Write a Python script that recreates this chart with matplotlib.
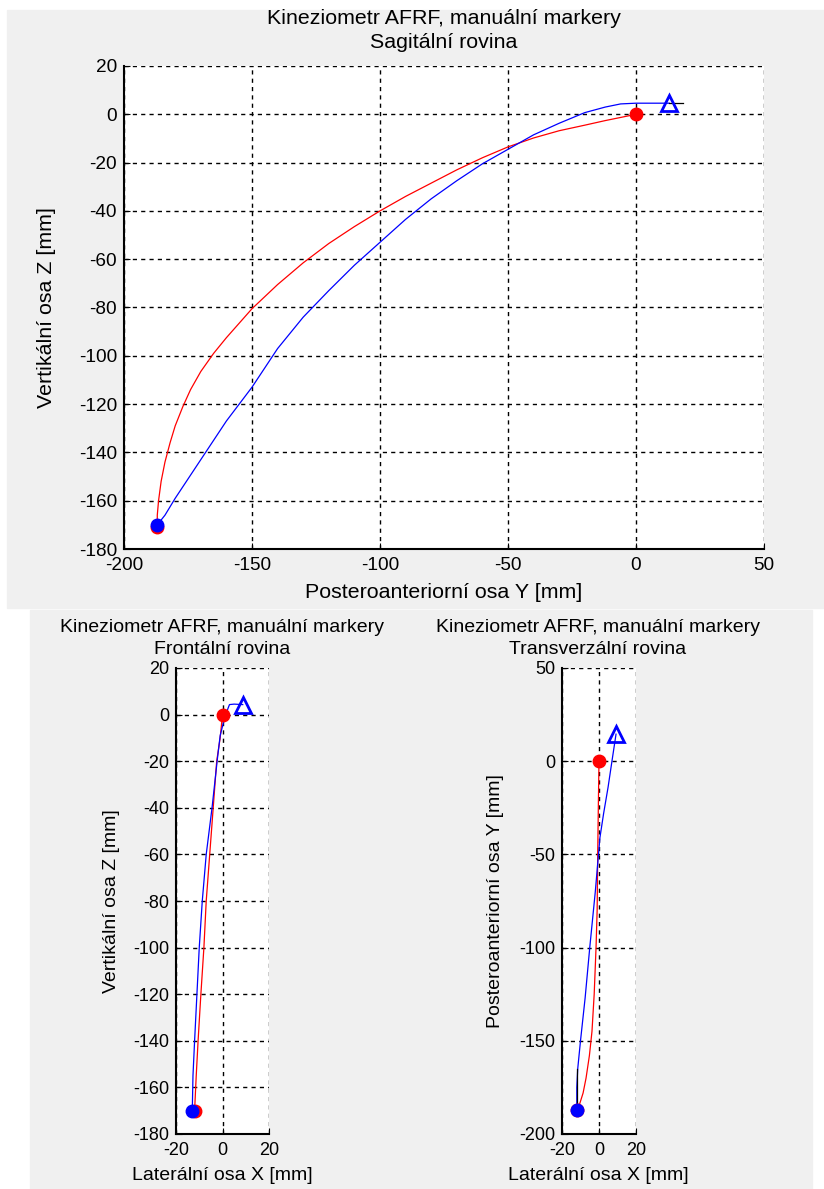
import numpy as np
import matplotlib
matplotlib.use("Agg")
import matplotlib.pyplot as plt
from matplotlib.patches import Rectangle

plt.rcParams['font.family'] = ['Liberation Sans', 'DejaVu Sans']
plt.rcParams['axes.unicode_minus'] = False

# sagittal plane: posteroanterior Y vs vertical Z
sag_red_y = [0, -6, -12, -20, -30, -40, -50, -60, -70, -80, -90, -100, -110, -120,
             -130, -140, -150, -155, -160, -165, -170, -174, -177, -180, -182,
             -184, -185.5, -186.5, -187, -187]
sag_red_z = [0, -1.3, -2.6, -4.5, -6.8, -9.8, -13.5, -18, -23, -28.5, -34, -40, -46.5, -53.5,
             -61.5, -70.5, -80.5, -86.5, -92.5, -99, -106.5, -114, -121, -129, -136,
             -144, -152, -160, -166, -171]
sag_blue_y = [13, 6, 0, -6, -12, -20, -30, -40, -50, -60, -70, -80, -90, -100,
              -110, -120, -130, -140, -145, -150, -155, -160, -165, -170, -175,
              -180, -184, -187]
sag_blue_z = [4.6, 4.6, 4.6, 4.3, 3.0, 0.7, -3.7, -8.5, -14.5, -20.5, -27.5, -35, -43.5, -53,
              -62.5, -73, -84, -97, -105, -113, -120, -127, -135, -143, -151,
              -159, -166, -170]
sag_black_y = [13, 18.4]
sag_black_z = [4.6, 4.6]

# frontal plane: lateral X vs vertical Z
fro_red_x = [0, -1, -2.5, -4, -5.5, -7, -8, -9.3, -10.5, -11.3, -12]
fro_red_z = [0, -10, -20, -40, -60, -80, -100, -120, -140, -155, -170]
fro_blue_x = [8.7, 5, 3, 1.7, 0.5, -1, -2.2, -4.5, -7, -8.7, -10, -11, -12, -12.7, -13]
fro_blue_z = [4.3, 4.5, 4.3, 0.9, -3, -9, -19, -40, -60, -80, -100, -120, -140, -155, -170]

# transverse plane: lateral X vs posteroanterior Y
tra_red_x = [0, -0.3, -0.7, -1.0, -1.6, -2.6, -3.8, -5.2, -7, -8.6, -10.5, -12]
tra_red_y = [0, -20, -50, -80, -100, -125, -145, -158, -170, -178, -184, -187]
tra_blue_x = [9.2, 7, 4.9, 2.5, 0.5, -2, -5, -7.5, -10, -11.5, -12, -12]
tra_blue_y = [14.5, 0, -14, -28, -41, -70, -100, -127, -150, -165, -175, -187]
tra_black_x = [-12, -12]
tra_black_y = [-165, -187]

W, H = 824, 1189
fig = plt.figure(figsize=(W / 100, H / 100), dpi=100)
fig.patch.set_facecolor("white")
gray = "#f0f0f0"
fig.patches.append(Rectangle((7 / W, 1 - 608 / H), 817 / W, 598 / H,
                             transform=fig.transFigure, color=gray, zorder=-10))
fig.patches.append(Rectangle((30 / W, 0), 782 / W, 1 - 610 / H,
                             transform=fig.transFigure, color=gray, zorder=-10))


def make_ax(left, right, top, bottom):
    return fig.add_axes([left / W, 1 - bottom / H, (right - left) / W, (bottom - top) / H])


def style_ax(ax, fs):
    ax.set_facecolor("white")
    ax.spines['top'].set_visible(False)
    ax.spines['right'].set_visible(False)
    ax.spines['left'].set_linewidth(1.5)
    ax.spines['bottom'].set_linewidth(1.5)
    ax.grid(True, color="black", linestyle=(0, (3, 3)), linewidth=1.0)
    ax.tick_params(direction="in", length=4, labelsize=fs, colors="black")
    ax.tick_params(axis="x", pad=6)
    ax.tick_params(axis="y", pad=5)


def draw(ax, rx, ry, bx, by, kx=None, ky=None):
    ax.plot(rx, ry, color="red", lw=0.9)
    ax.plot(bx, by, color="blue", lw=0.9)
    if kx is not None:
        ax.plot(kx, ky, color="black", lw=0.9)
    ax.plot(rx[0], ry[0], "o", color="red", ms=9)
    ax.plot(rx[-1], ry[-1], "o", color="red", ms=9)
    ax.plot(bx[-1], by[-1], "o", color="blue", ms=9)
    ax.plot(bx[0], by[0], "^", mfc="none", mec="blue", mew=2, ms=12)


title1 = "Kineziometr AFRF, manuální markery"
fs_top = 15.4
fs_bot = 14

# top: sagittal
ax1 = make_ax(124, 764, 66, 549)
style_ax(ax1, 13.7)
draw(ax1, sag_red_y, sag_red_z, sag_blue_y, sag_blue_z, sag_black_y, sag_black_z)
ax1.set_xlim(-200, 50)
ax1.set_ylim(-180, 20)
ax1.set_xticks([-200, -150, -100, -50, 0, 50])
ax1.set_yticks(np.arange(-180, 21, 20))
fig.text(444 / W, 1 - 18 / H, title1, ha="center", va="center", fontsize=fs_top)
fig.text(444 / W, 1 - 43 / H, "Sagitální rovina", ha="center", va="center", fontsize=fs_top)
fig.text(444 / W, 1 - 593 / H, "Posteroanteriorní osa Y [mm]", ha="center", va="center", fontsize=fs_top)
fig.text(47 / W, 1 - 308 / H, "Vertikální osa Z [mm]", ha="center", va="center",
         rotation=90, fontsize=fs_top)

# bottom left: frontal
ax2 = make_ax(176, 269, 668, 1134)
style_ax(ax2, 13)
draw(ax2, fro_red_x, fro_red_z, fro_blue_x, fro_blue_z)
ax2.set_xlim(-20, 20)
ax2.set_ylim(-180, 20)
ax2.set_xticks([-20, 0, 20])
ax2.set_yticks(np.arange(-180, 21, 20))
fig.text(222 / W, 1 - 627 / H, title1, ha="center", va="center", fontsize=fs_bot)
fig.text(222 / W, 1 - 649 / H, "Frontální rovina", ha="center", va="center", fontsize=fs_bot)
fig.text(222 / W, 1 - 1175 / H, "Laterální osa X [mm]", ha="center", va="center", fontsize=fs_bot)
fig.text(111 / W, 1 - 901 / H, "Vertikální osa Z [mm]", ha="center", va="center",
         rotation=90, fontsize=fs_bot)

# bottom right: transverse
ax3 = make_ax(562, 636, 668, 1134)
style_ax(ax3, 13)
draw(ax3, tra_red_x, tra_red_y, tra_blue_x, tra_blue_y, tra_black_x, tra_black_y)
ax3.set_xlim(-20, 20)
ax3.set_ylim(-200, 50)
ax3.set_xticks([-20, 0, 20])
ax3.set_yticks([-200, -150, -100, -50, 0, 50])
fig.text(598 / W, 1 - 627 / H, title1, ha="center", va="center", fontsize=fs_bot)
fig.text(598 / W, 1 - 649 / H, "Transverzální rovina", ha="center", va="center", fontsize=fs_bot)
fig.text(598 / W, 1 - 1175 / H, "Laterální osa X [mm]", ha="center", va="center", fontsize=fs_bot)
fig.text(495 / W, 1 - 901 / H, "Posteroanteriorní osa Y [mm]", ha="center", va="center",
         rotation=90, fontsize=fs_bot)

fig.savefig("out.png", dpi=100, facecolor="white")
